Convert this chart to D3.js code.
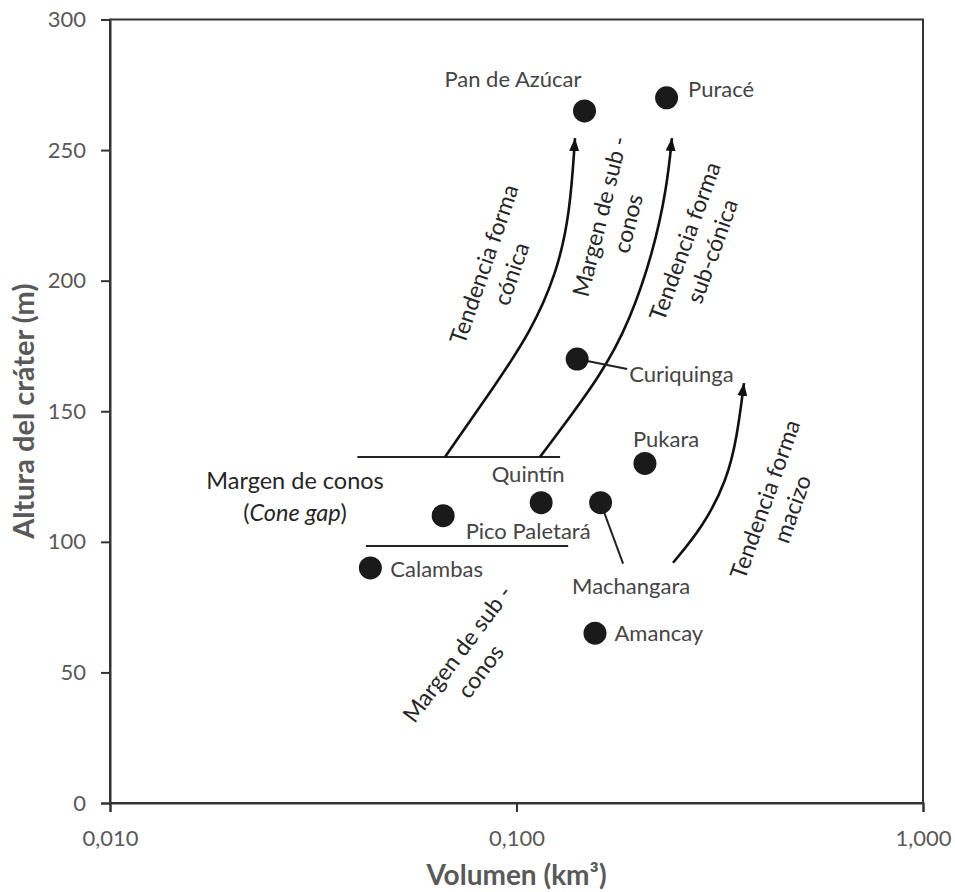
<!DOCTYPE html>
<html>
<head>
<meta charset="utf-8">
<script src="https://cdn.jsdelivr.net/npm/d3@7"></script>
<style>
  body { margin: 0; background: #fff; }
  svg { display: block; font-family: Lato, "Open Sans", sans-serif; }
</style>
</head>
<body>
<div id="chart"></div>
<script>
// Data
const names = ["Pan de Azúcar", "Puracé", "Curiquinga", "Pukara", "Quintín", "Machangara", "Pico Paletará", "Calambas", "Amancay"];
const volumes = [0.147, 0.234, 0.141, 0.207, 0.115, 0.161, 0.066, 0.0437, 0.156];
const heights = [265, 270, 170, 130, 115, 115, 110, 90, 65];

const yTicks = [0, 50, 100, 150, 200, 250, 300];
const xTicks = [0.01, 0.1, 1];
const xTickLabels = ["0,010", "0,100", "1,000"];

// trend arrows, in (volume, height)
const trendConica = [[0.0667, 132.5], [0.0895, 161], [0.108, 180], [0.1258, 203], [0.1354, 226], [0.1393, 254.6]];
const trendSubConica = [[0.1142, 132.5], [0.1633, 164.6], [0.1902, 185], [0.2167, 210.6], [0.2345, 235.8], [0.2412, 254.6]];
const trendMacizo = [[0.2427, 92], [0.2876, 105.7], [0.3294, 123.7], [0.3487, 140], [0.3628, 160.8]];

// cone gap limits
const gapUpper = [[0.0406, 132.5], [0.128, 132.5]];
const gapLower = [[0.0426, 98.4], [0.134, 98.4]];

// Layout
const width = 955, height = 892;
const margin = { top: 19.5, right: 32, bottom: 89, left: 110 };
const innerW = width - margin.left - margin.right;
const innerH = height - margin.top - margin.bottom;

const x = d3.scaleLog().domain([0.01, 1]).range([0, innerW]);
const y = d3.scaleLinear().domain([0, 300]).range([innerH, 0]);

// label offsets in pixels from the dot centre (to text baseline)
const labelPos = {
  "Pan de Azúcar": { dx: -3, dy: -24, anchor: "end" },
  "Puracé": { dx: 21.5, dy: -0.5, anchor: "start" },
  "Curiquinga": { dx: 52, dy: 23, anchor: "start" },
  "Pukara": { dx: -12, dy: -16, anchor: "start" },
  "Quintín": { dx: -49.5, dy: -20.5, anchor: "start" },
  "Machangara": { dx: -28.5, dy: 91, anchor: "start" },
  "Pico Paletará": { dx: 22.5, dy: 23.5, anchor: "start" },
  "Calambas": { dx: 20, dy: 9.5, anchor: "start" },
  "Amancay": { dx: 19.5, dy: 8, anchor: "start" }
};

const svg = d3.select("#chart").append("svg")
  .attr("width", width)
  .attr("height", height);

svg.append("defs").append("marker")
  .attr("id", "arrow")
  .attr("viewBox", "0 -5 13 10")
  .attr("refX", 13)
  .attr("refY", 0)
  .attr("markerUnits", "userSpaceOnUse")
  .attr("markerWidth", 13)
  .attr("markerHeight", 10)
  .attr("orient", "auto")
  .append("path")
  .attr("d", "M0,-5L13,0L0,5Z")
  .attr("fill", "#111");

const g = svg.append("g").attr("transform", `translate(${margin.left},${margin.top})`);

// frame
g.append("rect")
  .attr("width", innerW)
  .attr("height", innerH)
  .attr("fill", "none")
  .attr("stroke", "#333")
  .attr("stroke-width", 2);

// Y axis
const yAxis = g.append("g").call(d3.axisLeft(y).tickValues(yTicks).tickSize(9).tickPadding(15).tickFormat(d3.format("d")));
yAxis.select(".domain").attr("stroke", "#333").attr("stroke-width", 2);
yAxis.selectAll(".tick line").attr("stroke", "#333").attr("stroke-width", 2);
yAxis.selectAll(".tick text")
  .attr("fill", "#595959")
  .style("font-size", "22px")
  .style("font-family", "Lato, sans-serif");

// X axis
const xAxis = g.append("g")
  .attr("transform", `translate(0,${innerH})`)
  .call(d3.axisBottom(x).tickValues(xTicks).tickSize(9).tickPadding(18).tickFormat((d, i) => xTickLabels[i]));
xAxis.select(".domain").attr("stroke", "#333").attr("stroke-width", 2);
xAxis.selectAll(".tick line").attr("stroke", "#333").attr("stroke-width", 2);
xAxis.selectAll(".tick text")
  .attr("fill", "#595959")
  .style("font-size", "22px")
  .style("font-family", "Lato, sans-serif");

// axis titles
svg.append("text")
  .attr("transform", `translate(27,${margin.top + innerH / 2}) rotate(-90)`)
  .attr("text-anchor", "middle")
  .attr("dominant-baseline", "middle")
  .attr("fill", "#595959")
  .style("font-size", "29px")
  .style("font-weight", "bold")
  .text("Altura del cráter (m)");

svg.append("text")
  .attr("x", margin.left + x(0.1))
  .attr("y", 878)
  .attr("text-anchor", "middle")
  .attr("dominant-baseline", "middle")
  .attr("fill", "#595959")
  .style("font-size", "28px")
  .style("font-weight", "bold")
  .text("Volumen (km³)");

const line = d3.line().x((d) => x(d[0])).y((d) => y(d[1]));
const curve = d3.line().x((d) => x(d[0])).y((d) => y(d[1])).curve(d3.curveBasis);

// cone gap lines
[gapUpper, gapLower].forEach((seg) => {
  g.append("path")
    .attr("d", line(seg))
    .attr("fill", "none")
    .attr("stroke", "#222")
    .attr("stroke-width", 2);
});

// trend arrows
[trendConica, trendSubConica, trendMacizo].forEach((pts) => {
  g.append("path")
    .attr("d", curve(pts))
    .attr("fill", "none")
    .attr("stroke", "#111")
    .attr("stroke-width", 2.6)
    .attr("marker-end", "url(#arrow)");
});

const data = names.map((n, i) => ({ name: n, v: volumes[i], h: heights[i] }));

// leader lines
const leaders = {
  "Curiquinga": { dx: 50, dy: 10 },
  "Machangara": { dx: 22.5, dy: 61 }
};
g.selectAll(".leader")
  .data(data.filter((d) => leaders[d.name]))
  .enter()
  .append("line")
  .attr("class", "leader")
  .attr("x1", (d) => x(d.v))
  .attr("y1", (d) => y(d.h))
  .attr("x2", (d) => x(d.v) + leaders[d.name].dx)
  .attr("y2", (d) => y(d.h) + leaders[d.name].dy)
  .attr("stroke", "#222")
  .attr("stroke-width", 2);

// dots
g.selectAll(".dot")
  .data(data)
  .enter()
  .append("circle")
  .attr("class", "dot")
  .attr("cx", (d) => x(d.v))
  .attr("cy", (d) => y(d.h))
  .attr("r", 11.5)
  .attr("fill", "#1a1a1a");

// point labels
g.selectAll(".label")
  .data(data)
  .enter()
  .append("text")
  .attr("class", "label")
  .attr("x", (d) => x(d.v) + labelPos[d.name].dx)
  .attr("y", (d) => y(d.h) + labelPos[d.name].dy)
  .attr("text-anchor", (d) => labelPos[d.name].anchor)
  .attr("fill", "#454545")
  .style("font-size", "22px")
  .text((d) => d.name);

// annotation texts (pixel centre of first line, rotation angle)
const notes = [
  { lines: ["Tendencia forma", "cónica"], cx: 486, cy: 265, angle: -71 },
  { lines: ["Margen de sub -", "conos"], cx: 602, cy: 217, angle: -76 },
  { lines: ["Tendencia forma", "sub-cónica"], cx: 687, cy: 242, angle: -70 },
  { lines: ["Tendencia forma", "macizo"], cx: 767, cy: 500, angle: -70.5 },
  { lines: ["Margen de sub -", "conos"], cx: 459, cy: 655, angle: -53 }
];

notes.forEach((n) => {
  const t = svg.append("text")
    .attr("transform", `translate(${n.cx},${n.cy}) rotate(${n.angle})`)
    .attr("text-anchor", "middle")
    .attr("dominant-baseline", "middle")
    .attr("fill", "#262626")
    .style("font-size", "23px");
  n.lines.forEach((l, i) => {
    t.append("tspan").attr("x", 0).attr("y", i * 29).text(l);
  });
});

// cone gap label
const gapLabel = svg.append("text")
  .attr("text-anchor", "middle")
  .attr("fill", "#262626")
  .style("font-size", "23.5px");
gapLabel.append("tspan").attr("x", 295).attr("y", 489).text("Margen de conos");
const l2 = gapLabel.append("tspan").attr("x", 295).attr("y", 521);
l2.append("tspan").text("(");
l2.append("tspan").style("font-style", "italic").text("Cone gap");
l2.append("tspan").text(")");
</script>
</body>
</html>
